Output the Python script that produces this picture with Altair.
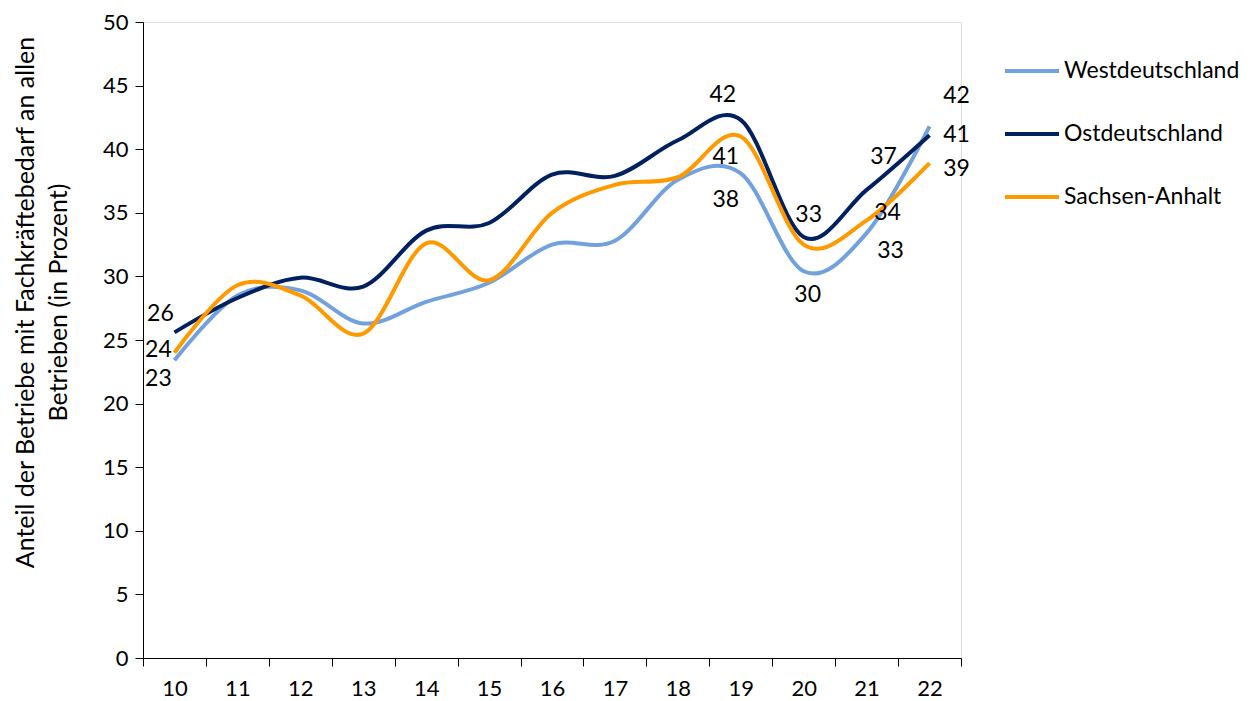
import altair as alt
import pandas as pd

# ---- data ----
years = [10, 11, 12, 13, 14, 15, 16, 17, 18, 19, 20, 21, 22]
west = [23.4, 28.5, 28.9, 26.3, 28.0, 29.5, 32.5, 32.8, 37.6, 38.1, 30.4, 33.4, 41.8]
ost = [25.6, 28.3, 29.9, 29.2, 33.6, 34.2, 38.0, 37.9, 40.7, 42.3, 33.1, 36.8, 41.1]
sachsen_anhalt = [24.0, 29.3, 28.5, 25.5, 32.6, 29.7, 35.0, 37.2, 37.8, 41.0, 32.5, 34.4, 38.9]
series_names = ["Westdeutschland", "Ostdeutschland", "Sachsen-Anhalt"]
colors = ["#71A2DE", "#002060", "#FF9900"]
y_title = ["Anteil der Betriebe mit Fachkräftebedarf an allen", "Betrieben (in Prozent)"]

rows = []
for name, vals in zip(series_names, [west, ost, sachsen_anhalt]):
    for yr, v in zip(years, vals):
        rows.append({"Jahr": yr, "Reihe": name, "Wert": v})
df = pd.DataFrame(rows)

# label placements (style only): (series, year) -> (dx, dy)
label_style = {
    ("Ostdeutschland", 10): (-14, -18),
    ("Sachsen-Anhalt", 10): (-16, -3),
    ("Westdeutschland", 10): (-16, 19),
    ("Ostdeutschland", 19): (-18, -25),
    ("Sachsen-Anhalt", 19): (-15, 21),
    ("Westdeutschland", 19): (-15, 27),
    ("Ostdeutschland", 20): (5, -22),
    ("Westdeutschland", 20): (4, 24),
    ("Ostdeutschland", 21): (17, -33),
    ("Sachsen-Anhalt", 21): (21, -7),
    ("Westdeutschland", 21): (24, 18),
    ("Westdeutschland", 22): (27, -30),
    ("Ostdeutschland", 22): (27, 0),
    ("Sachsen-Anhalt", 22): (27, 6),
}

W, H = 818, 636
cat_w = W / len(years)
FONT = "Lato"

x_scale = alt.Scale(domain=[9.5, 22.5], nice=False, zero=False)
y_scale = alt.Scale(domain=[0, 50], nice=False, zero=True)

x_axis = alt.Axis(
    values=[9.5 + i for i in range(len(years) + 1)],
    labelExpr="datum.value < 22 ? format(datum.value + 0.5, 'd') : ''",
    labelOffset=cat_w / 2,
    labelFlush=False,
    labelOverlap=False,
    grid=False,
    tickSize=8,
    labelPadding=12,
    labelFontSize=22,
    labelFont=FONT,
    labelColor="black",
    domainColor="black",
    tickColor="black",
    title=None,
)
y_axis = alt.Axis(
    values=list(range(0, 51, 5)),
    grid=False,
    tickSize=8,
    labelPadding=7,
    labelFontSize=22,
    labelFont=FONT,
    labelColor="black",
    domainColor="black",
    tickColor="black",
    title=y_title,
    titleFont=FONT,
    titleFontSize=25,
    titleFontWeight="normal",
    titleColor="black",
    titleAngle=270,
    titleAlign="center",
    titleBaseline="middle",
    titleLineHeight=33,
    titleX=-117.5,
    titleY=280,
)

color = alt.Color(
    "Reihe:N",
    scale=alt.Scale(domain=series_names, range=colors),
    sort=series_names,
    legend=alt.Legend(
        title=None,
        orient="none",
        legendX=860,
        legendY=20,
        padding=0,
        symbolType="stroke",
        symbolSize=2916,
        symbolStrokeWidth=4,
        labelFont=FONT,
        labelFontSize=23,
        labelColor="black",
        labelOffset=3,
        labelLimit=400,
        rowPadding=22,
    ),
)

lines = alt.Chart(df).mark_line(interpolate="cardinal", strokeWidth=4).encode(
    x=alt.X("Jahr:Q", scale=x_scale, axis=x_axis),
    y=alt.Y("Wert:Q", scale=y_scale, axis=y_axis),
    color=color,
    detail="Reihe:N",
)

texts = []
for (name, yr), (dx, dy) in label_style.items():
    sub = df[(df["Reihe"] == name) & (df["Jahr"] == yr)]
    t = alt.Chart(sub).mark_text(
        dx=dx, dy=dy, align="center", baseline="middle", font=FONT, fontSize=23, color="black"
    ).encode(
        x=alt.X("Jahr:Q", scale=x_scale),
        y=alt.Y("Wert:Q", scale=y_scale),
        text=alt.Text("Wert:Q", format=".0f"),
    )
    texts.append(t)

chart = alt.layer(lines, *texts).properties(
    width=W,
    height=H,
    padding={"left": 135, "top": 14, "right": 282, "bottom": 43},
    autosize=alt.AutoSizeParams(type="none"),
).configure_view(stroke=None).configure(background="white")

chart.save("out.html", embed_options={"renderer": "svg", "actions": False})
